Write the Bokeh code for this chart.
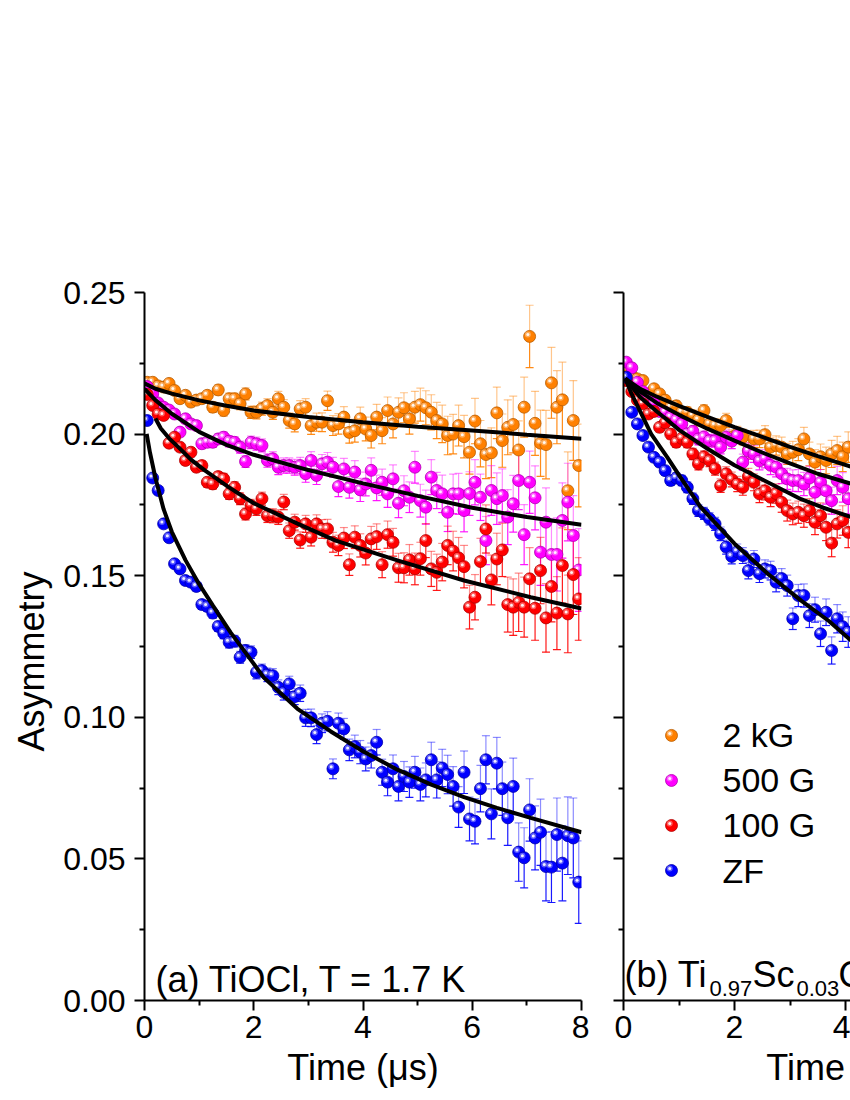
import numpy as np
from bokeh.plotting import figure
from bokeh.models import (ColumnDataSource, Whisker, TeeHead, FixedTicker,
                          PrintfTickFormatter, Label, Range1d)
from bokeh.layouts import row
from bokeh.embed import file_html
from bokeh.resources import INLINE

FONT = "Liberation Sans"
NB = "\u00a0"

# ---------------- data ----------------
series_labels = ["2 kG", "500 G", "100 G", "ZF"]
colors = ["#FF8000", "#FF00FF", "#FF0000", "#0000FF"]
dark_colors = ["#B85C00", "#B000B0", "#B00000", "#0000A8"]

x_ticks_a = [0, 2, 4, 6, 8]
x_minor_a = [1, 3, 5, 7]
x_ticks_b = [0, 2, 4]
x_minor_b = [1, 3]
y_ticks = [0.00, 0.05, 0.10, 0.15, 0.20, 0.25]
y_minor = [0.025, 0.075, 0.125, 0.175, 0.225]

# panel (a): TiOCl
t_a = [0.05, 0.15, 0.25, 0.35, 0.45, 0.55, 0.65, 0.75, 0.85, 0.95,
       1.05, 1.15, 1.25, 1.35, 1.45, 1.55, 1.65, 1.75, 1.85, 1.95,
       2.05, 2.15, 2.25, 2.35, 2.45, 2.55, 2.65, 2.75, 2.85, 2.95,
       3.05, 3.15, 3.25, 3.35, 3.45, 3.55, 3.65, 3.75, 3.85, 3.95,
       4.05, 4.15, 4.25, 4.35, 4.45, 4.55, 4.65, 4.75, 4.85, 4.95,
       5.05, 5.15, 5.25, 5.35, 5.45, 5.55, 5.65, 5.75, 5.85, 5.95,
       6.05, 6.15, 6.25, 6.35, 6.45, 6.55, 6.65, 6.75, 6.85, 6.95,
       7.05, 7.15, 7.25, 7.35, 7.45, 7.55, 7.65, 7.75, 7.85, 7.95]

a_2kG = [0.2183, 0.2183, 0.2170, 0.2166, 0.2179, 0.2154, 0.2125, 0.2137, 0.2113, 0.2120,
         0.2125, 0.2137, 0.2095, 0.2156, 0.2083, 0.2125, 0.2125, 0.2107, 0.2142, 0.2077,
         0.2077, 0.2090, 0.2101, 0.2077, 0.2125, 0.2095, 0.2048, 0.2036, 0.2089, 0.2095,
         0.2030, 0.2042, 0.2042, 0.2118, 0.2030, 0.2036, 0.2060, 0.2006, 0.2012, 0.2054,
         0.2018, 0.1995, 0.2060, 0.2012, 0.2083, 0.2036, 0.2077, 0.2093, 0.2054, 0.2095,
         0.2104, 0.2093, 0.2077, 0.2048, 0.2036, 0.1995, 0.2000, 0.2030, 0.1991, 0.1936,
         0.2046, 0.1966, 0.1928, 0.1934, 0.2075, 0.1977, 0.2024, 0.2034, 0.1944, 0.2095,
         0.2345, 0.2038, 0.1968, 0.1963, 0.2181, 0.2095, 0.2121, 0.1800, 0.2048, 0.1889]

a_500G = [0.2168, 0.2142, 0.2110, 0.2095, 0.2085, 0.2071, 0.2007, 0.2054, 0.2036, 0.2030,
          0.1966, 0.1971, 0.1971, 0.1983, 0.1989, 0.1975, 0.1971, 0.1954, 0.1903, 0.1971,
          0.1966, 0.1960, 0.1907, 0.1913, 0.1883, 0.1889, 0.1889, 0.1883, 0.1889, 0.1860,
          0.1907, 0.1854, 0.1895, 0.1901, 0.1883, 0.1815, 0.1877, 0.1812, 0.1866, 0.1803,
          0.1824, 0.1872, 0.1810, 0.1830, 0.1789, 0.1842, 0.1756, 0.1800, 0.1777, 0.1883,
          0.1765, 0.1742, 0.1848, 0.1801, 0.1789, 0.1724, 0.1789, 0.1789, 0.1730, 0.1790,
          0.1830, 0.1777, 0.1624, 0.1801, 0.1772, 0.1783, 0.1707, 0.1754, 0.1836, 0.1645,
          0.1830, 0.1775, 0.1583, 0.1689, 0.1575, 0.1575, 0.1695, 0.1760, 0.1642, 0.1520]

a_100G = [0.2140, 0.2101, 0.2071, 0.2066, 0.1968, 0.1989, 0.1954, 0.1907, 0.1936, 0.1883,
          0.1889, 0.1830, 0.1824, 0.1850, 0.1842, 0.1789, 0.1812, 0.1772, 0.1718, 0.1748,
          0.1736, 0.1772, 0.1712, 0.1712, 0.1707, 0.1760, 0.1659, 0.1689, 0.1626, 0.1683,
          0.1636, 0.1683, 0.1665, 0.1665, 0.1618, 0.1607, 0.1633, 0.1539, 0.1636, 0.1607,
          0.1580, 0.1630, 0.1638, 0.1539, 0.1645, 0.1618, 0.1528, 0.1528, 0.1556, 0.1524,
          0.1560, 0.1624, 0.1524, 0.1512, 0.1548, 0.1607, 0.1587, 0.1563, 0.1532, 0.1389,
          0.1424, 0.1550, 0.1665, 0.1485, 0.1559, 0.1591, 0.1398, 0.1389, 0.1406, 0.1389,
          0.1489, 0.1385, 0.1518, 0.1351, 0.1462, 0.1368, 0.1536, 0.1365, 0.1504, 0.1418]

a_ZF = [0.2048, 0.1845, 0.1801, 0.1683, 0.1634, 0.1542, 0.1524, 0.1483, 0.1477, 0.1462,
        0.1398, 0.1391, 0.1368, 0.1321, 0.1297, 0.1265, 0.1269, 0.1212, 0.1236, 0.1230,
        0.1159, 0.1165, 0.1150, 0.1147, 0.1106, 0.1088, 0.1118, 0.1073, 0.1085, 0.0998,
        0.0998, 0.0939, 0.0979, 0.0986, 0.0818, 0.0979, 0.0959, 0.0885, 0.0897, 0.0877,
        0.0853, 0.0865, 0.0912, 0.0806, 0.0771, 0.0818, 0.0756, 0.0791, 0.0771, 0.0806,
        0.0763, 0.0779, 0.0850, 0.0779, 0.0821, 0.0798, 0.0756, 0.0683, 0.0806, 0.0641,
        0.0633, 0.0748, 0.0850, 0.0659, 0.0838, 0.0748, 0.0645, 0.0756, 0.0524, 0.0504,
        0.0673, 0.0574, 0.0594, 0.0473, 0.0471, 0.0586, 0.0485, 0.0582, 0.0574, 0.0418]

err_a = [0.0012, 0.0012, 0.0013, 0.0013, 0.0014, 0.0014, 0.0015, 0.0015, 0.0016, 0.0016,
         0.0017, 0.0017, 0.0018, 0.0018, 0.0019, 0.0020, 0.0020, 0.0021, 0.0021, 0.0022,
         0.0023, 0.0023, 0.0024, 0.0025, 0.0026, 0.0027, 0.0027, 0.0028, 0.0029, 0.0030,
         0.0031, 0.0032, 0.0033, 0.0034, 0.0035, 0.0036, 0.0037, 0.0038, 0.0040, 0.0041,
         0.0042, 0.0044, 0.0045, 0.0046, 0.0048, 0.0049, 0.0051, 0.0053, 0.0054, 0.0056,
         0.0058, 0.0060, 0.0062, 0.0064, 0.0066, 0.0068, 0.0070, 0.0072, 0.0075, 0.0077,
         0.0080, 0.0082, 0.0085, 0.0088, 0.0091, 0.0094, 0.0097, 0.0100, 0.0103, 0.0106,
         0.0110, 0.0113, 0.0117, 0.0121, 0.0125, 0.0129, 0.0133, 0.0137, 0.0141, 0.0146]

# fit curves, panel (a)
fit_t_a_2kG = [0.0, 0.2, 0.5, 1.0, 1.5, 2.0, 3.0, 4.0, 5.0, 6.0, 7.0, 8.0]
fit_a_2kG = [0.2179, 0.2160, 0.2143, 0.2119, 0.2100, 0.2083, 0.2060, 0.2042, 0.2026, 0.2013, 0.1998, 0.1984]
fit_t_a_500G = [0.0, 0.2, 0.5, 1.0, 1.5, 2.0, 3.0, 4.0, 5.0, 6.0, 7.0, 8.0]
fit_a_500G = [0.2160, 0.2120, 0.2072, 0.2008, 0.1962, 0.1927, 0.1873, 0.1826, 0.1782, 0.1740, 0.1707, 0.1680]
fit_t_a_100G = [0.2, 0.3, 0.45, 0.62, 0.85, 1.11, 1.54, 2.0, 2.8, 3.5, 4.63, 5.85, 7.07, 8.0]
fit_a_100G = [0.2055, 0.2020, 0.1985, 0.1954, 0.1910, 0.1871, 0.1813, 0.1756, 0.1684, 0.1624, 0.1554, 0.1483, 0.1424, 0.1384]
fit_t_a_ZF = [0.04, 0.1, 0.2, 0.35, 0.5, 0.75, 1.0, 1.25, 1.575, 2.185, 2.8, 3.41, 4.0, 4.63, 5.25, 5.85, 6.45, 7.07, 8.0]
fit_a_ZF = [0.2001, 0.1935, 0.1845, 0.1735, 0.1655, 0.1555, 0.1470, 0.1395, 0.1300, 0.1140, 0.1030, 0.0950, 0.0880, 0.0815, 0.0762, 0.0718, 0.0680, 0.0645, 0.0594]

# panel (b): Ti0.97Sc0.03OCl
t_b = [0.05, 0.15, 0.25, 0.35, 0.45, 0.55, 0.65, 0.75, 0.85, 0.95,
       1.05, 1.15, 1.25, 1.35, 1.45, 1.55, 1.65, 1.75, 1.85, 1.95,
       2.05, 2.15, 2.25, 2.35, 2.45, 2.55, 2.65, 2.75, 2.85, 2.95,
       3.05, 3.15, 3.25, 3.35, 3.45, 3.55, 3.65, 3.75, 3.85, 3.95, 4.05]

b_2kG = [0.2230, 0.2207, 0.2195, 0.2189, 0.2142, 0.2160, 0.2142, 0.2120, 0.2095, 0.2100,
         0.2077, 0.2077, 0.2065, 0.2050, 0.2083, 0.2036, 0.2030, 0.2030, 0.2048, 0.1989,
         0.2000, 0.1990, 0.1942, 0.1983, 0.1983, 0.1998, 0.1954, 0.1960, 0.1954, 0.1930,
         0.1936, 0.1945, 0.1983, 0.1930, 0.1901, 0.1920, 0.1907, 0.1930, 0.1942, 0.1920, 0.1954]

b_500G = [0.2254, 0.2234, 0.2183, 0.2150, 0.2125, 0.2110, 0.2080, 0.2077, 0.2060, 0.2050,
          0.2036, 0.2001, 0.2010, 0.1983, 0.1990, 0.1977, 0.1977, 0.1954, 0.1989, 0.1975,
          0.1995, 0.1901, 0.1940, 0.1930, 0.1905, 0.1913, 0.1890, 0.1883, 0.1860, 0.1842,
          0.1836, 0.1836, 0.1824, 0.1845, 0.1795, 0.1830, 0.1800, 0.1765, 0.1836, 0.1812, 0.1772]

b_100G = [0.2189, 0.2150, 0.2120, 0.2107, 0.2071, 0.2080, 0.2024, 0.2040, 0.2000, 0.1971,
          0.1985, 0.1971, 0.1930, 0.1895, 0.1920, 0.1907, 0.1878, 0.1818, 0.1860, 0.1840,
          0.1824, 0.1812, 0.1850, 0.1830, 0.1789, 0.1800, 0.1777, 0.1790, 0.1759, 0.1730,
          0.1718, 0.1724, 0.1712, 0.1730, 0.1689, 0.1712, 0.1671, 0.1615, 0.1683, 0.1695, 0.1653]

b_ZF = [0.2201, 0.2077, 0.2036, 0.1995, 0.1954, 0.1918, 0.1901, 0.1871, 0.1836, 0.1845,
        0.1836, 0.1812, 0.1772, 0.1730, 0.1720, 0.1701, 0.1683, 0.1648, 0.1601, 0.1568,
        0.1585, 0.1571, 0.1518, 0.1559, 0.1507, 0.1524, 0.1518, 0.1477, 0.1490, 0.1465,
        0.1348, 0.1430, 0.1430, 0.1359, 0.1380, 0.1295, 0.1371, 0.1236, 0.1348, 0.1320, 0.1301]

err_b = [0.0013, 0.0013, 0.0014, 0.0014, 0.0015, 0.0015, 0.0016, 0.0016, 0.0017, 0.0018,
         0.0018, 0.0019, 0.0020, 0.0021, 0.0021, 0.0022, 0.0023, 0.0024, 0.0025, 0.0026,
         0.0027, 0.0028, 0.0029, 0.0030, 0.0031, 0.0032, 0.0033, 0.0034, 0.0035, 0.0037,
         0.0038, 0.0039, 0.0041, 0.0042, 0.0044, 0.0045, 0.0047, 0.0048, 0.0050, 0.0052, 0.0054]

fit_t_b_2kG = [0.03, 0.3, 0.6, 1.0, 1.5, 2.0, 2.5, 3.0, 3.5, 4.1]
fit_b_2kG = [0.2196, 0.2160, 0.2132, 0.2100, 0.2062, 0.2025, 0.1990, 0.1955, 0.1922, 0.1885]
fit_t_b_500G = [0.03, 0.3, 0.6, 1.0, 1.5, 2.0, 2.5, 3.0, 3.5, 4.1]
fit_b_500G = [0.2196, 0.2150, 0.2110, 0.2068, 0.2020, 0.1977, 0.1935, 0.1897, 0.1860, 0.1825]
fit_t_b_100G = [0.03, 0.3, 0.6, 0.8, 1.0, 1.5, 2.0, 2.5, 3.2, 3.6, 4.1]
fit_b_100G = [0.2196, 0.2130, 0.2080, 0.2048, 0.2015, 0.1950, 0.1890, 0.1840, 0.1770, 0.1740, 0.1707]
fit_t_b_ZF = [0.03, 0.15, 0.3, 0.5, 0.79, 1.0, 1.39, 2.0, 2.6, 3.2, 3.7, 4.1]
fit_b_ZF = [0.2196, 0.2140, 0.2080, 0.2000, 0.1918, 0.1855, 0.1742, 0.1613, 0.1507, 0.1412, 0.1340, 0.1271]

# ---------------- helpers ----------------
def style_axes(p, xt, xm):
    for ax in (p.xaxis[0], p.yaxis[0]):
        ax.axis_line_width = 2
        ax.axis_line_color = "black"
        ax.major_tick_line_width = 2
        ax.minor_tick_line_width = 2
        ax.major_tick_line_color = "black"
        ax.minor_tick_line_color = "black"
        ax.major_tick_in = 0
        ax.major_tick_out = 10
        ax.minor_tick_in = 0
        ax.minor_tick_out = 5
        ax.major_label_text_font = FONT
        ax.major_label_text_font_size = "32px"
        ax.major_label_text_color = "black"
        ax.axis_label_text_font = FONT
        ax.axis_label_text_font_size = "36px"
        ax.axis_label_text_font_style = "normal"
        ax.axis_label_text_color = "black"
    p.xaxis[0].ticker = FixedTicker(ticks=xt, minor_ticks=xm)
    p.yaxis[0].ticker = FixedTicker(ticks=y_ticks, minor_ticks=y_minor)
    p.xaxis[0].major_label_standoff = 5
    p.yaxis[0].major_label_standoff = 9
    p.xaxis[0].axis_label_standoff = 6
    p.yaxis[0].axis_label_standoff = 8
    p.yaxis[0].formatter = PrintfTickFormatter(format="%.2f")
    p.xgrid.visible = False
    p.ygrid.visible = False
    p.outline_line_color = None


def add_series(p, t, y, err, color, dark):
    t = np.asarray(t, dtype=float)
    y = np.asarray(y, dtype=float)
    e = np.asarray(err, dtype=float)
    src = ColumnDataSource(dict(t=t, y=y, top=y + e, bot=y - e))
    up = Whisker(source=src, base="t", upper="top", lower="y", dimension="height",
                 line_color=color, line_alpha=0.45, line_width=1.2,
                 upper_head=TeeHead(size=8, line_color=color, line_alpha=0.45, line_width=1.2),
                 lower_head=None, level="underlay")
    dn = Whisker(source=src, base="t", upper="y", lower="bot", dimension="height",
                 line_color=color, line_alpha=0.9, line_width=1.2,
                 lower_head=TeeHead(size=8, line_color=color, line_alpha=0.9, line_width=1.2),
                 upper_head=None, level="underlay")
    p.add_layout(up)
    p.add_layout(dn)
    p.scatter("t", "y", source=src, size=12, marker="circle",
              fill_color=color, line_color=dark, line_width=0.8)
    hl = ColumnDataSource(dict(t=t - 0.032, y=y + 0.0007))
    p.scatter("t", "y", source=hl, size=6, marker="circle",
              fill_color="white", fill_alpha=0.35, line_color=None)
    p.scatter("t", "y", source=hl, size=3, marker="circle",
              fill_color="white", fill_alpha=0.9, line_color=None)


def make_fig(width, left, right, xend):
    p = figure(width=width, height=1100, x_range=Range1d(0, xend), y_range=Range1d(0, 0.25),
               output_backend="svg", toolbar_location=None,
               min_border_left=left, min_border_right=right,
               min_border_top=292, min_border_bottom=100)
    p.background_fill_color = "white"
    p.border_fill_color = "white"
    return p


# ---------------- panel (a) ----------------
p1 = make_fig(589, 144, 8, 8)
style_axes(p1, x_ticks_a, x_minor_a)
p1.xaxis[0].axis_label = "Time (\u03bcs)"
p1.yaxis[0].axis_label = "Asymmetry" + NB * 3

data_a = [a_2kG, a_500G, a_100G, a_ZF]
fits_a = [(fit_t_a_2kG, fit_a_2kG), (fit_t_a_500G, fit_a_500G),
          (fit_t_a_100G, fit_a_100G), (fit_t_a_ZF, fit_a_ZF)]
for ys, c, d in zip(data_a, colors, dark_colors):
    add_series(p1, t_a, ys, err_a, c, d)
for ft, fy in fits_a:
    p1.line(ft, fy, line_color="black", line_width=4)

p1.add_layout(Label(x=0.2, y=0.0074, text="(a) TiOCl, T = 1.7 K", text_font=FONT,
                    text_font_size="36px", text_color="black", text_baseline="alphabetic"))

# ---------------- panel (b) ----------------
p2 = make_fig(261, 34, 0, 4.09)
style_axes(p2, x_ticks_b, x_minor_b)
p2.yaxis[0].formatter = PrintfTickFormatter(format="")
p2.yaxis[0].major_label_text_font_size = "1px"
p2.xaxis[0].axis_label = NB * 21 + "Time (\u03bcs)"

data_b = [b_2kG, b_500G, b_100G, b_ZF]
fits_b = [(fit_t_b_2kG, fit_b_2kG), (fit_t_b_500G, fit_b_500G),
          (fit_t_b_100G, fit_b_100G), (fit_t_b_ZF, fit_b_ZF)]
for ys, c, d in zip(data_b, colors, dark_colors):
    add_series(p2, t_b, ys, err_b, c, d)
for ft, fy in fits_b:
    p2.line(ft, fy, line_color="black", line_width=4)

sx = 227 / 4.09  # px per microsecond in panel (b)
def bx(px):
    return (px - 623) / sx

# legend (manual)
leg_y = [0.0936, 0.0777, 0.0618, 0.0459]
for lab, c, d, ly in zip(series_labels, colors, dark_colors, leg_y):
    add_series(p2, [bx(671)], [ly], [0.0], c, d)
    p2.add_layout(Label(x=bx(722), y=ly, text=lab, text_font=FONT, text_font_size="34px",
                        text_color="black", text_baseline="middle"))

# panel (b) title with subscripts
parts = [("(b) Ti", 624, "36px", 0.0092),
         ("0.97", 709, "22px", 0.0042),
         ("Sc", 752, "36px", 0.0092),
         ("0.03", 796, "22px", 0.0042),
         ("OCl, T = 1.7 K", 838, "36px", 0.0092)]
for txt, px, fs, yy in parts:
    p2.add_layout(Label(x=bx(px), y=yy, text=txt, text_font=FONT, text_font_size=fs,
                        text_color="black", text_baseline="alphabetic"))

layout = row(p1, p2)
open("out.html", "w").write(file_html(layout, INLINE))
